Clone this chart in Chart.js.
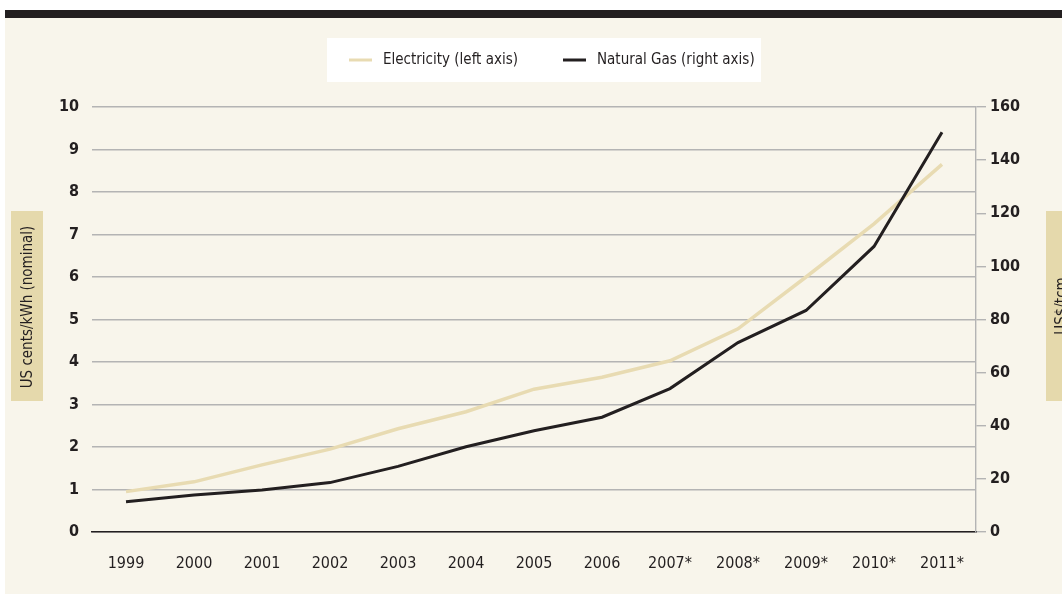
<!DOCTYPE html>
<html>
<head>
<meta charset="utf-8">
<title>Electricity and natural gas prices, 1999-2011</title>
<script src="https://cdn.jsdelivr.net/npm/chart.js@4.4.1/dist/chart.umd.min.js"></script>
<style>
  html, body { margin: 0; padding: 0; background: #ffffff; }
  #wrap { position: relative; width: 1062px; height: 594px; }
  canvas { display: block; }
</style>
</head>
<body>
<div id="wrap"><canvas id="chart" width="1062" height="594"></canvas></div>
<script>
// Years on the horizontal axis (starred years are estimates)
const years = ['1999', '2000', '2001', '2002', '2003', '2004', '2005', '2006', '2007*', '2008*', '2009*', '2010*', '2011*'];

// Electricity price, US cents/kWh (nominal) - left axis
const electricity = [0.95, 1.18, 1.58, 1.95, 2.43, 2.83, 3.36, 3.64, 4.03, 4.78, 6.0, 7.25, 8.65];

// Natural gas price, US$/tcm - right axis
const naturalGas = [11.4, 13.9, 15.8, 18.6, 24.7, 32.1, 38.1, 43.2, 54.0, 71.3, 83.4, 107.5, 150.5];

// Axis ranges and tick steps
const leftAxisRange = [0, 10];
const leftAxisStep = 1;
const rightAxisRange = [0, 160];
const rightAxisStep = 20;

// Text
const seriesNames = ['Electricity (left axis)', 'Natural Gas (right axis)'];
const leftAxisTitle = 'US cents/kWh (nominal)';
const rightAxisTitle = 'US$/tcm';

const FONT = "'Liberation Sans Narrow', 'DejaVu Sans Condensed', 'Arial Narrow', sans-serif";
const INK = '#231f20';
const PAPER = '#f8f5eb';
const GRID = '#b4b4b4';

// Page frame: dark rule on top, paper background, shaded axis-title boxes
const framePlugin = {
  id: 'frame',
  beforeDraw(chart) {
    const ctx = chart.ctx;
    ctx.save();
    ctx.fillStyle = '#ffffff';
    ctx.fillRect(0, 0, chart.width, chart.height);
    ctx.fillStyle = PAPER;
    ctx.fillRect(5, 18, chart.width - 5, chart.height - 18);
    ctx.fillStyle = INK;
    ctx.fillRect(5, 10, chart.width - 5, 8);

    // axis title boxes
    ctx.fillStyle = '#e5d9ac';
    ctx.fillRect(11, 211, 32, 190);
    ctx.fillRect(1046, 211, 32, 190);

    ctx.fillStyle = INK;
    ctx.font = "15px " + FONT;
    ctx.textAlign = 'center';
    ctx.textBaseline = 'middle';
    ctx.save();
    ctx.translate(28, 307);
    ctx.rotate(-Math.PI / 2);
    ctx.fillText(leftAxisTitle, 0, 0);
    ctx.restore();
    ctx.save();
    ctx.translate(1062, 306);
    ctx.rotate(-Math.PI / 2);
    ctx.fillText(rightAxisTitle, 0, 0);
    ctx.restore();

    // legend panel
    ctx.fillStyle = '#ffffff';
    ctx.fillRect(327, 38, 434, 44);
    ctx.restore();
  },
  afterDraw(chart) {
    // legend entries, taken from the datasets
    const ctx = chart.ctx;
    const entries = [
      { ds: chart.data.datasets[0], x: 349 },
      { ds: chart.data.datasets[1], x: 563 }
    ];
    ctx.save();
    ctx.font = "15px " + FONT;
    ctx.textBaseline = 'middle';
    ctx.textAlign = 'left';
    entries.forEach(e => {
      ctx.strokeStyle = e.ds.borderColor;
      ctx.lineWidth = 3;
      ctx.beginPath();
      ctx.moveTo(e.x, 60);
      ctx.lineTo(e.x + 23, 60);
      ctx.stroke();
      ctx.fillStyle = INK;
      ctx.fillText(e.ds.label, e.x + 34, 60);
    });
    ctx.restore();
  }
};

new Chart(document.getElementById('chart'), {
  type: 'line',
  data: {
    labels: years,
    datasets: [
      {
        label: seriesNames[0],
        data: electricity,
        yAxisID: 'y',
        borderColor: '#e8dbb2',
        borderWidth: 3.5,
        pointRadius: 0,
        tension: 0,
        borderCapStyle: 'butt',
        order: 2
      },
      {
        label: seriesNames[1],
        data: naturalGas,
        yAxisID: 'y1',
        borderColor: INK,
        borderWidth: 3,
        pointRadius: 0,
        tension: 0,
        borderCapStyle: 'butt',
        order: 1
      }
    ]
  },
  options: {
    responsive: false,
    animation: false,
    devicePixelRatio: 1,
    layout: { padding: { top: 107, bottom: 0, left: 0, right: 0 } },
    plugins: {
      legend: { display: false },
      tooltip: { enabled: false }
    },
    scales: {
      x: {
        offset: true,
        grid: { display: false },
        border: { display: true, color: INK, width: 1.6 },
        ticks: { color: INK, font: { family: FONT, size: 16 }, padding: 14, maxRotation: 0 },
        afterFit(scale) { scale.height = 62; }
      },
      y: {
        position: 'left',
        min: leftAxisRange[0],
        max: leftAxisRange[1],
        grid: { color: GRID, lineWidth: 1.4, drawTicks: false },
        border: { display: false },
        ticks: { stepSize: leftAxisStep, color: INK, font: { family: FONT, size: 16, weight: 'bold' }, padding: 13 },
        afterFit(scale) { scale.width = 92; }
      },
      y1: {
        position: 'right',
        min: rightAxisRange[0],
        max: rightAxisRange[1],
        grid: { drawOnChartArea: false, drawTicks: true, tickLength: 10, color: GRID, lineWidth: 1.4 },
        border: { display: true, color: GRID, width: 1.4 },
        ticks: { stepSize: rightAxisStep, color: INK, font: { family: FONT, size: 16, weight: 'bold' }, padding: 4 },
        afterFit(scale) { scale.width = 86; }
      }
    }
  },
  plugins: [framePlugin]
});
</script>
</body>
</html>
